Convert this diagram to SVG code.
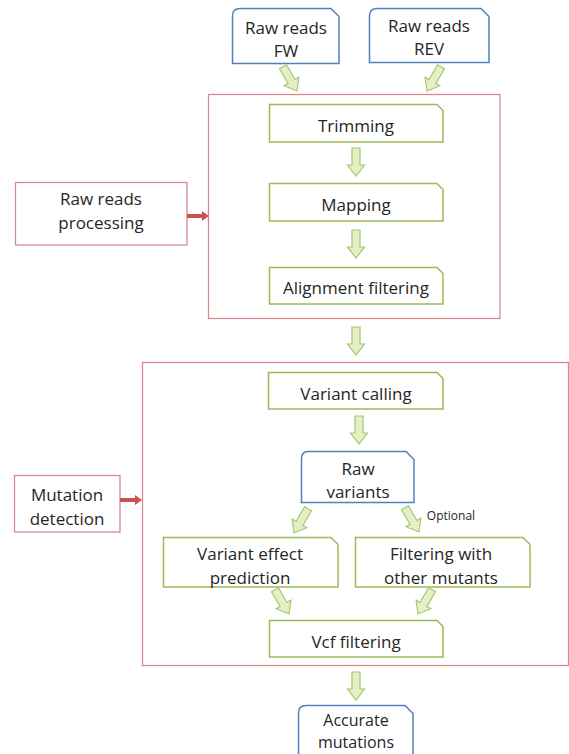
<svg xmlns="http://www.w3.org/2000/svg" width="569" height="754" viewBox="0 0 569 754">
<style>
text{font-family:"Open Sans","Liberation Sans",sans-serif;font-size:17px;fill:#262626;text-anchor:middle}
.g{fill:#fff;stroke:#9bbb59;stroke-width:1.5}
.b{fill:#fff;stroke:#4f81bd;stroke-width:1.5}
.r{fill:#fff;stroke:#d9898b;stroke-width:1.3}
.ga{fill:#e4efc6;stroke:#a8c66c;stroke-width:1.2}
.ra{fill:#c9514e}
.small{font-size:12px}
.tight{font-size:16px}
</style>
<defs>
<path id="da" d="M-4,-28 L4,-28 L4,-11 L8.5,-11 L0,0 L-8.5,-11 L-4,-11 Z"/>
</defs>
<rect x="0" y="0" width="569" height="754" fill="#fff"/>

<g id="container-processing">
<rect class="r" x="208.5" y="94.5" width="291.5" height="224"/>
</g>
<g id="container-mutation">
<rect class="r" x="142.5" y="362.5" width="426" height="303"/>
</g>

<g id="raw-fw">
<path class="b" d="M240,8.5 L331,8.5 L339,16.5 L339,63.5 L232.5,63.5 L232.5,16 Q232.5,8.5 240,8.5 Z"/>
<text x="286" y="34">Raw reads</text>
<text x="286" y="57">FW</text>
</g>
<g id="raw-rev">
<path class="b" d="M377,8.5 L481,8.5 L489,16.5 L489,62.5 L369.5,62.5 L369.5,16 Q369.5,8.5 377,8.5 Z"/>
<text x="429" y="32">Raw reads</text>
<text x="429" y="55">REV</text>
</g>
<g id="trimming">
<path class="g" d="M269.5,104.5 L437,104.5 L443,110.5 L443,142 L269.5,142 Z"/>
<text x="356" y="132">Trimming</text>
</g>
<g id="mapping">
<path class="g" d="M269.5,183.5 L437,183.5 L443,189.5 L443,221 L269.5,221 Z"/>
<text x="356" y="211">Mapping</text>
</g>
<g id="alignment-filtering">
<path class="g" d="M269.5,267.5 L437,267.5 L443,273.5 L443,304 L269.5,304 Z"/>
<text x="356" y="294">Alignment filtering</text>
</g>
<g id="raw-reads-processing">
<rect class="r" x="15.5" y="182.5" width="171.5" height="62.5"/>
<text x="101" y="205">Raw reads</text>
<text x="101" y="229">processing</text>
</g>
<g id="variant-calling">
<path class="g" d="M268.5,372.5 L437,372.5 L443,378.5 L443,409 L268.5,409 Z"/>
<text x="356" y="400">Variant calling</text>
</g>
<g id="raw-variants">
<path class="b" d="M308,451.5 L406,451.5 L414,459.5 L414,502.5 L301.5,502.5 L301.5,459 Q301.5,451.5 308,451.5 Z"/>
<text x="358" y="475">Raw</text>
<text x="358" y="498">variants</text>
</g>
<g id="mutation-detection">
<rect class="r" x="14.5" y="475.5" width="105.5" height="56.5"/>
<text x="67" y="501">Mutation</text>
<text x="67" y="525">detection</text>
</g>
<g id="variant-effect">
<path class="g" d="M163.5,537.5 L331,537.5 L338,544.5 L338,587 L163.5,587 Z"/>
<text x="250" y="560">Variant effect</text>
<text x="250" y="584">prediction</text>
</g>
<g id="filtering-mutants">
<path class="g" d="M355.5,537.5 L523,537.5 L530,544.5 L530,587 L355.5,587 Z"/>
<text x="441" y="560">Filtering with</text>
<text x="441" y="584">other mutants</text>
</g>
<g id="vcf-filtering">
<path class="g" d="M269.5,620.5 L437,620.5 L443,626.5 L443,657 L269.5,657 Z"/>
<text x="356" y="648">Vcf filtering</text>
</g>
<g id="accurate-mutations">
<path class="b" d="M306,705.5 L405,705.5 L413,713.5 L413,760 L298.5,760 L298.5,713 Q298.5,705.5 306,705.5 Z"/>
<text class="tight" x="356" y="726">Accurate</text>
<text class="tight" x="356" y="748">mutations</text>
</g>

<g id="connectors">
<use href="#da" class="ga" transform="translate(297,91) rotate(-30)"/>
<use href="#da" class="ga" transform="translate(427,91) rotate(30)"/>
<use href="#da" class="ga" transform="translate(356,176)"/>
<use href="#da" class="ga" transform="translate(356,258)"/>
<use href="#da" class="ga" transform="translate(356,355)"/>
<use href="#da" class="ga" transform="translate(359,444)"/>
<use href="#da" class="ga" transform="translate(294,533) rotate(30)"/>
<use href="#da" class="ga" transform="translate(419,532) rotate(-30)"/>
<use href="#da" class="ga" transform="translate(289,614) rotate(-30)"/>
<use href="#da" class="ga" transform="translate(418,614) rotate(30)"/>
<use href="#da" class="ga" transform="translate(356,700)"/>
<path class="ra" d="M187,214 L202,214 L202,211 L209,216 L202,221 L202,218 L187,218 Z"/>
<path class="ra" d="M120,498 L135,498 L135,495 L142,500 L135,505 L135,502 L120,502 Z"/>
<text class="small" x="451" y="520">Optional</text>
</g>
</svg>
